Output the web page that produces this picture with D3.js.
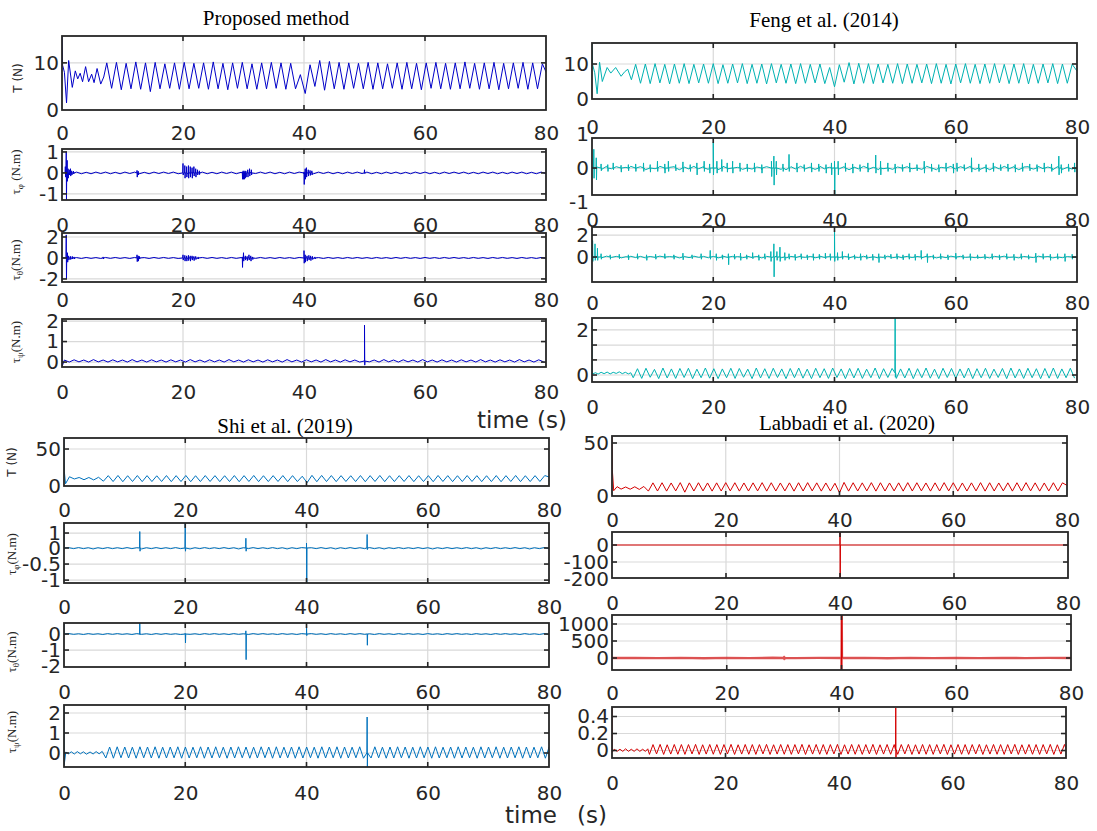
<!DOCTYPE html>
<html><head><meta charset="utf-8">
<script src="https://cdn.jsdelivr.net/npm/d3@7"></script>
<style>body{margin:0;background:#fff}svg{display:block}</style>
</head><body>
<svg id="c" width="1097" height="831"></svg>
<script>
// ---------------- data ----------------
const xTicks = [0, 20, 40, 60, 80];
const titles = ["Proposed method", "Feng et al. (2014)", "Shi et al. (2019)", "Labbadi et al. (2020)"];

// Proposed method : T
const P1_head = [0,16, 0.1,9.5, 0.4,8.0, 0.75,1.5, 1.1,10.5, 1.7,4.8, 2.2,8.3, 2.6,6.6, 3.0,7.8, 3.4,6.0, 3.9,9.2, 4.4,6.0, 4.9,7.6, 5.3,5.8, 5.8,8.8, 6.4,5.5, 6.9,7.0];
const P1_body = [10.0,4.6,10.1,4.3,9.9,4.5,10.2,4.4,10.0,3.9,
10.1,4.5,9.8,4.6,10.0,4.4,10.1,4.5,9.9,4.6,
10.0,4.4,10.2,4.5,9.9,4.3,10.0,4.6,10.1,4.5,
9.8,4.4,10.0,4.5,10.1,4.6,10.0,4.4,9.9,4.5,
7.5,3.5,9.6,5.0,10.5,4.2,10.3,4.5,10.1,4.4,
10.0,4.6,9.9,4.5,10.1,4.4,10.0,4.5,9.8,4.6,
10.0,4.4,10.1,4.5,9.9,4.3,10.0,4.6,10.1,4.5,
9.9,4.4,10.0,4.5,10.2,4.6,9.9,4.4,10.0,4.5,
10.1,4.3,9.9,4.5,10.0,4.6,10.1,4.4,10.0,4.5,9.8,7.5];
// Proposed : tau_phi
const P2_body = [0.04,-0.03,0.04,-0.04,0.03,-0.04,0.04,-0.03,0.04,-0.04,
0.03,-0.04,0.04,-0.03,0.04,-0.04,0.03,-0.04,0.04,-0.03,
0.04,-0.03,0.04,-0.04,0.03,-0.04,0.04,-0.03,0.04,-0.04,
0.03,-0.04,0.04,-0.03,0.04,-0.04,0.03,-0.04,0.04,-0.03,
0.04,-0.03,0.04,-0.04,0.03,-0.04,0.04,-0.03,0.04,-0.04,
0.03,-0.04,0.04,-0.03,0.04,-0.04,0.03,-0.04,0.04,-0.03,
0.04,-0.03,0.04,-0.04,0.03,-0.04,0.04,-0.03,0.04,-0.04,
0.03,-0.04,0.04,-0.03,0.04,-0.04,0.03,-0.04,0.04,-0.03,
0.04,-0.03,0.04,-0.04,0.03,-0.04,0.04,-0.03,0.04,-0.04,
0.03,-0.04,0.04,-0.03,0.04,-0.04,0.03,-0.04,0.04,-0.03];
const P2_spikes = [[0.55,0.3,-0.2],[0.7,1.0,-1.29],[0.85,0.6,-0.4],[1.0,0.2,-0.25],[1.2,0.15,-0.1],[1.4,0.2,-0.15],[1.6,0.1,-0.1],[1.9,0.08,-0.05],
[12.4,0.12,-0.2],[12.6,0.08,-0.1],
[20.0,0.45,-0.1],[20.3,0.35,-0.25],[20.6,0.3,-0.2],[20.9,0.35,-0.25],[21.2,0.3,-0.2],[21.5,0.25,-0.25],[21.8,0.3,-0.15],[22.1,0.2,-0.2],[22.4,0.15,-0.1],[22.7,0.1,-0.08],
[29.8,0.05,-0.3],[29.95,0.1,-0.3],[30.1,0.05,-0.3],[30.25,0.1,-0.25],[30.4,0.08,-0.2],[30.7,0.15,-0.2],[31.0,0.2,-0.15],[31.3,0.15,-0.1],
[40.0,0.05,-0.55],[40.2,0.2,-0.3],[40.4,0.25,-0.2],[40.7,0.15,-0.15],[41.0,0.12,-0.12],[41.3,0.1,-0.1],
[50.0,0.15,-0.03]];
// Proposed : tau_theta
const P3_body = [0.05,-0.04,0.04,-0.05,0.05,-0.04,0.04,-0.05,0.05,-0.04,
0.05,-0.04,0.04,-0.05,0.05,-0.04,0.04,-0.05,0.05,-0.04,
0.05,-0.04,0.04,-0.05,0.05,-0.04,0.04,-0.05,0.05,-0.04,
0.05,-0.04,0.04,-0.05,0.05,-0.04,0.04,-0.05,0.05,-0.04,
0.05,-0.04,0.04,-0.05,0.05,-0.04,0.04,-0.05,0.05,-0.04,
0.05,-0.04,0.04,-0.05,0.05,-0.04,0.04,-0.05,0.05,-0.04,
0.05,-0.04,0.04,-0.05,0.05,-0.04,0.04,-0.05,0.05,-0.04,
0.05,-0.04,0.04,-0.05,0.05,-0.04,0.04,-0.05,0.05,-0.04,
0.05,-0.04,0.04,-0.05,0.05,-0.04,0.04,-0.05,0.05,-0.04,
0.05,-0.04,0.04,-0.05,0.05,-0.04,0.04,-0.05,0.05,-0.04];
const P3_spikes = [[0.7,2.2,-2.0],[0.9,0.5,-0.4],[1.1,0.2,-0.2],[1.4,0.15,-0.15],[1.7,0.15,-0.1],[2.0,0.1,-0.1],[6.8,0.1,-0.1],
[12.4,0.3,-0.35],[12.6,0.2,-0.3],[12.8,0.15,-0.1],
[20.0,0.3,-0.2],[20.3,0.25,-0.3],[20.6,0.2,-0.3],[20.9,0.25,-0.25],[21.2,0.2,-0.3],[21.5,0.2,-0.2],[21.8,0.15,-0.25],[22.1,0.15,-0.15],[22.5,0.1,-0.1],
[29.8,0.1,-0.9],[30.0,0.5,-0.3],[30.3,0.2,-0.2],[30.6,0.15,-0.25],[30.9,0.3,-0.2],[31.2,0.2,-0.3],[31.5,0.1,-0.15],
[40.0,0.7,-0.5],[40.2,0.3,-0.4],[40.5,0.2,-0.3],[40.8,0.25,-0.2],[41.1,0.2,-0.25],[41.4,0.15,-0.15],[41.8,0.1,-0.1]];
// Proposed : tau_psi
const P4_head = [0,2.1, 0.03,-0.2];
const P4_body = [0.10,0.00,0.11,0.01,0.10,0.00,0.12,0.01,0.10,0.00,
0.11,0.01,0.10,0.00,0.12,0.01,0.10,0.00,0.11,0.01,
0.10,0.00,0.11,0.01,0.10,0.00,0.12,0.01,0.10,0.00,
0.11,0.01,0.10,0.00,0.12,0.01,0.10,0.00,0.11,0.01,
0.10,0.00,0.11,0.01,0.10,0.00,0.12,0.01,0.10,0.00,
0.11,0.01,0.10,0.00,0.12,0.01,0.10,0.00,0.11,0.01,
0.10,0.00,0.11,0.01,0.10,0.00,0.12,0.01,0.10,0.00,
0.11,0.01,0.10,0.00,0.12,0.01,0.10,0.00,0.11,0.01,
0.10,0.00,0.11,0.01,0.10,0.00,0.12,0.01,0.10,0.00,
0.11,0.01,0.10,0.00,0.12,0.01,0.10,0.00,0.11,0.01];
const P4_spikes = [[50,1.8,-0.15]];

// Feng et al. (2014)
const F1_head = [0,16, 0.1,9.8, 0.45,7.5, 0.85,1.5, 1.25,10.5, 1.7,5.0, 2.5,9.0, 3.1,7.4, 3.9,9.0, 4.8,6.5, 5.4,7.8, 5.9,8.5, 6.5,5.5];
const F1_body = [9.9,4.5,10.0,4.4,10.1,4.6,9.9,4.3,10.0,4.5,
10.1,4.4,9.9,4.6,10.0,4.5,10.1,4.4,9.8,4.5,
10.0,4.6,10.1,4.4,9.9,4.5,10.0,4.3,10.1,4.6,
9.9,4.5,10.0,4.4,10.1,4.5,9.9,4.6,10.0,4.4,
9.0,3.5,9.8,4.8,10.4,4.3,10.2,4.5,10.1,4.4,
10.0,4.6,9.9,4.5,10.1,4.4,10.0,4.5,9.9,4.6,
10.0,4.4,10.1,4.5,9.9,4.3,10.0,4.6,10.1,4.5,
9.9,4.4,10.0,4.5,10.1,4.6,9.9,4.4,10.0,4.5,
10.1,4.3,9.9,4.5,10.0,4.6,10.1,4.4,10.0,4.5,9.9,8.0];
const F2_body = [0.00,0.03,-0.04,0.05,-0.02,0.04,-0.05,0.02,0.05,-0.03,
0.04,-0.05,0.03,-0.02,0.05,-0.04,0.02,0.04,-0.05,0.03,
-0.03,0.05,-0.02,0.04,-0.04,0.03,-0.05,0.05,-0.02,0.04,
0.02,-0.04,0.05,-0.03,0.03,-0.05,0.04,-0.02,0.05,-0.04,
-0.05,0.04,-0.03,0.05,-0.02,0.03,-0.04,0.05,-0.03,0.02,
0.05,-0.02,0.04,-0.05,0.03,-0.03,0.05,-0.04,0.02,-0.05,
-0.02,0.05,-0.04,0.03,-0.05,0.04,-0.02,0.03,-0.04,0.05,
0.03,-0.05,0.02,-0.04,0.05,-0.03,0.04,-0.02,0.05,-0.04,
-0.04,0.02,-0.05,0.04,-0.03,0.05,-0.02,0.04,-0.05,0.03,
0.04,-0.03,0.05,-0.02,0.03,-0.05,0.04,-0.04,0.02,-0.03,0.00];
const F2_spikes = [[0.3,0.55,-0.3],[0.7,0.3,-0.35],[1.5,0.12,-0.08],[2.6,0.1,-0.1],[3.5,0.15,-0.05],[4.8,0.08,-0.12],[6.0,0.1,-0.08],[7.2,0.12,-0.1],[8.5,0.15,-0.1],[9.6,0.1,-0.12],[10.8,0.2,-0.1],[12.0,0.12,-0.15],[12.6,0.2,-0.1],[13.8,0.1,-0.08],[15.0,0.18,-0.12],[16.2,0.1,-0.1],[17.3,0.15,-0.2],[18.5,0.2,-0.1],[19.4,0.12,-0.15],[20.0,0.75,-0.2],[20.6,0.2,-0.15],[21.4,0.25,-0.1],[22.3,0.15,-0.12],[23.2,0.2,-0.15],[24.4,0.15,-0.1],[25.6,0.12,-0.1],[26.8,0.15,-0.12],[28.0,0.1,-0.15],[29.6,0.2,-0.25],[30.0,0.35,-0.5],[30.4,0.2,-0.2],[31.5,0.12,-0.1],[32.5,0.4,-0.1],[33.8,0.15,-0.12],[35.0,0.1,-0.1],[36.2,0.15,-0.12],[37.4,0.12,-0.1],[38.6,0.1,-0.15],[39.5,0.15,-0.2],[40.0,0.2,-0.8],[40.6,0.2,-0.2],[41.8,0.15,-0.1],[43.0,0.12,-0.15],[44.2,0.1,-0.1],[45.5,0.15,-0.12],[46.8,0.38,-0.15],[47.6,0.2,-0.2],[48.8,0.15,-0.1],[50.0,0.12,-0.15],[51.2,0.1,-0.1],[52.4,0.15,-0.12],[53.6,0.1,-0.08],[54.8,0.2,-0.15],[56.0,0.12,-0.1],[57.2,0.1,-0.12],[58.4,0.15,-0.1],[59.6,0.12,-0.15],[60.2,0.15,-0.1],[61.4,0.1,-0.08],[62.6,0.3,-0.12],[63.8,0.12,-0.1],[65.0,0.1,-0.12],[66.2,0.15,-0.1],[67.4,0.1,-0.08],[68.6,0.12,-0.1],[69.8,0.1,-0.12],[71.0,0.15,-0.1],[72.2,0.12,-0.08],[73.4,0.1,-0.1],[74.6,0.15,-0.12],[75.8,0.12,-0.1],[77.0,0.35,-0.2],[77.4,0.1,-0.15],[78.6,0.12,-0.1],[79.6,0.15,-0.12]];
const F3_body = [0.00,0.05,-0.07,0.08,-0.04,0.06,-0.08,0.03,0.07,-0.05,
0.06,-0.08,0.05,-0.03,0.08,-0.06,0.04,0.07,-0.08,0.05,
-0.05,0.08,-0.03,0.06,-0.07,0.05,-0.08,0.08,-0.04,0.06,
0.04,-0.06,0.08,-0.05,0.05,-0.08,0.06,-0.03,0.07,-0.06,
-0.08,0.06,-0.05,0.08,-0.03,0.05,-0.07,0.08,-0.05,0.04,
0.08,-0.04,0.06,-0.08,0.05,-0.05,0.07,-0.06,0.03,-0.08,
-0.03,0.08,-0.06,0.05,-0.08,0.06,-0.04,0.05,-0.07,0.08,
0.05,-0.08,0.04,-0.06,0.08,-0.05,0.06,-0.03,0.07,-0.06,
-0.06,0.04,-0.08,0.06,-0.05,0.08,-0.03,0.06,-0.08,0.05,
0.06,-0.05,0.08,-0.03,0.05,-0.08,0.06,-0.06,0.04,-0.05,0.00];
const F3_spikes = [[0.1,1.5,-0.4],[0.5,1.2,-0.3],[0.9,0.8,-0.3],[1.5,0.3,-0.2],[3.0,0.2,-0.2],[4.5,0.25,-0.15],[6.0,0.2,-0.25],[7.5,0.3,-0.2],[9.0,0.2,-0.3],[10.5,0.25,-0.2],[12.0,0.3,-0.15],[13.5,0.2,-0.2],[15.0,0.35,-0.25],[16.5,0.2,-0.15],[18.0,0.3,-0.2],[19.5,0.6,-0.2],[20.5,0.3,-0.3],[21.5,0.2,-0.2],[22.5,0.3,-0.7],[23.5,0.25,-0.2],[24.5,0.35,-0.3],[25.5,0.2,-0.2],[26.5,0.4,-0.15],[27.5,0.2,-0.3],[28.5,0.3,-0.2],[29.5,0.5,-0.4],[30.0,1.2,-1.8],[30.5,0.5,-0.3],[31.0,0.9,-0.4],[31.8,0.4,-0.3],[32.5,0.3,-0.2],[33.5,0.25,-0.3],[34.5,0.3,-0.2],[35.5,0.2,-0.25],[36.5,0.3,-0.3],[37.5,0.25,-0.2],[38.5,0.35,-0.15],[39.3,0.3,-0.3],[40.0,2.7,-0.4],[40.5,0.4,-0.3],[41.3,0.5,-0.2],[42.3,0.3,-0.25],[43.3,0.2,-0.2],[44.3,0.3,-0.3],[45.3,0.2,-0.2],[46.3,0.25,-0.3],[47.3,0.3,-0.5],[48.3,0.2,-0.2],[49.3,0.25,-0.15],[50.3,0.3,-0.2],[51.3,0.2,-0.25],[52.3,0.3,-0.2],[53.3,0.25,-0.3],[54.3,0.6,-0.2],[55.3,0.3,-0.5],[56.3,0.2,-0.2],[57.5,0.3,-0.2],[58.7,0.2,-0.25],[60.0,0.35,-0.2],[61.2,0.2,-0.2],[62.4,0.3,-0.3],[63.6,0.2,-0.15],[64.8,0.25,-0.2],[66.0,0.3,-0.2],[67.2,0.2,-0.25],[68.4,0.3,-0.2],[69.6,0.25,-0.3],[70.8,0.3,-0.2],[72.0,0.2,-0.2],[73.2,0.35,-0.5],[74.4,0.3,-0.2],[75.6,0.25,-0.3],[76.8,0.3,-0.2],[78.0,0.3,-0.4],[79.2,0.25,-0.2]];
const F4_head = [0,2.53, 0.03,0.05, 0.6,0.1, 1.0,0.04, 1.5,0.12, 2.0,0.06, 2.5,0.13, 3.0,0.05, 3.5,0.12, 4.0,0.07, 4.5,0.14, 5.0,0.06, 5.5,0.12, 6.0,0.05, 6.4,0.1];
const F4_body = [-0.12,0.28,-0.15,0.30,-0.10,0.25,-0.16,0.31,-0.13,0.27,
-0.15,0.29,-0.11,0.30,-0.16,0.26,-0.12,0.31,-0.14,0.28,
-0.16,0.27,-0.12,0.30,-0.15,0.29,-0.10,0.26,-0.16,0.31,
-0.13,0.28,-0.15,0.30,-0.11,0.27,-0.16,0.29,-0.12,0.31,
-0.14,0.26,-0.16,0.30,-0.12,0.28,-0.15,0.31,-0.11,0.27,
-0.16,0.29,-0.13,0.30,-0.15,0.26,-0.12,0.31,-0.16,0.28,
-0.11,0.29,-0.15,0.27,-0.13,0.30,-0.16,0.28,-0.12,0.31,
-0.14,0.26,-0.16,0.30,-0.11,0.29,-0.15,0.27,-0.13,0.31,
-0.16,0.28,-0.12,0.30,-0.15,0.26,-0.11,0.29,-0.16,0.31,
-0.13,0.27,-0.15,0.30,-0.12,0.28,-0.16,0.29,-0.14,0.31,
-0.15,0.27,-0.12,0.30,-0.14];
const F4_spikes = [[50,2.53,-0.1]];

// Shi et al. (2019)
const S1_head = [0,65, 0.05,20, 0.25,3, 0.9,12.5, 1.7,9.5, 2.5,11.5, 3.3,8.5, 4.1,11.5, 4.9,8.2, 5.7,11.8, 6.5,6.5];
const S1_body = [14.0,6.0,14.2,5.8,13.9,6.1,14.1,5.9,14.0,6.0,
13.8,6.1,14.1,5.9,14.0,6.0,14.2,5.8,13.9,6.0,
14.1,6.1,14.0,5.9,13.9,6.0,14.1,5.8,14.0,6.1,
14.2,5.9,13.9,6.0,14.0,6.1,14.1,5.9,14.0,6.0,
13.2,4.5,14.4,5.8,14.3,6.0,14.1,5.9,14.0,6.1,
13.9,6.0,14.1,5.8,14.0,6.1,14.2,5.9,13.9,6.0,
14.0,6.1,14.1,5.9,13.9,6.0,14.0,5.8,14.2,6.1,
14.0,5.9,13.9,6.0,14.1,6.1,14.0,5.9,13.9,6.0,
14.1,5.8,14.0,6.1,14.2,5.9,13.9,6.0,14.0,6.1,14.1,12.0];
const S2_head = [0,1.67, 0.03,0];
const S2_body = [0.02,-0.02,0.03,-0.02,0.02,-0.03,0.02,-0.02,0.03,-0.02,
0.02,-0.02,0.03,-0.02,0.02,-0.03,0.02,-0.02,0.03,-0.02,
0.02,-0.02,0.03,-0.02,0.02,-0.03,0.02,-0.02,0.03,-0.02,
0.02,-0.02,0.03,-0.02,0.02,-0.03,0.02,-0.02,0.03,-0.02,
0.02,-0.02,0.03,-0.02,0.02,-0.03,0.02,-0.02,0.03,-0.02,
0.02,-0.02,0.03,-0.02,0.02,-0.03,0.02,-0.02,0.03,-0.02,
0.02,-0.02,0.03,-0.02,0.02,-0.03,0.02,-0.02,0.03,-0.02,
0.02,-0.02,0.03,-0.02,0.02,-0.03,0.02,-0.02,0.03,-0.02,
0.02,-0.02,0.03,-0.02,0.02,-0.03,0.02,-0.02,0.03,-0.02,
0.02,-0.02,0.03,-0.02,0.02,-0.03,0.02,-0.02,0.03,-0.02];
const S2_spikes = [[12.5,1.1,-0.1],[20,1.67,-0.1],[30,0.65,-0.1],[40,0.33,-1.09],[50,0.9,-0.05]];
const S3_head = [0,0.69, 0.03,0];
const S3_body = [0.03,-0.02,0.02,-0.03,0.03,-0.02,0.02,-0.03,0.03,-0.02,
0.03,-0.02,0.02,-0.03,0.03,-0.02,0.02,-0.03,0.03,-0.02,
0.03,-0.02,0.02,-0.03,0.03,-0.02,0.02,-0.03,0.03,-0.02,
0.03,-0.02,0.02,-0.03,0.03,-0.02,0.02,-0.03,0.03,-0.02,
0.03,-0.02,0.02,-0.03,0.03,-0.02,0.02,-0.03,0.03,-0.02,
0.03,-0.02,0.02,-0.03,0.03,-0.02,0.02,-0.03,0.03,-0.02,
0.03,-0.02,0.02,-0.03,0.03,-0.02,0.02,-0.03,0.03,-0.02,
0.03,-0.02,0.02,-0.03,0.03,-0.02,0.02,-0.03,0.03,-0.02,
0.03,-0.02,0.02,-0.03,0.03,-0.02,0.02,-0.03,0.03,-0.02,
0.03,-0.02,0.02,-0.03,0.03,-0.02,0.02,-0.03,0.03,-0.02];
const S3_spikes = [[12.5,0.69,-0.05],[20,0.05,-0.56],[30,0.2,-1.6],[40,0.69,-0.1],[50,0.02,-0.7]];
const S4_head = [0,2.4, 0.03,-0.6, 0.3,0.05, 0.75,-0.04, 1.2,0.06, 1.7,-0.05, 2.2,0.07, 2.7,-0.04, 3.2,0.06, 3.7,-0.06, 4.3,0.05, 4.8,-0.05, 5.3,0.07, 5.8,-0.04, 6.3,0.08];
const S4_body = [-0.25,0.30,-0.26,0.31,-0.24,0.30,-0.25,0.29,-0.26,0.31,
-0.24,0.30,-0.25,0.31,-0.26,0.29,-0.25,0.30,-0.24,0.31,
-0.26,0.30,-0.25,0.29,-0.24,0.31,-0.26,0.30,-0.25,0.31,
-0.24,0.29,-0.26,0.30,-0.25,0.31,-0.24,0.30,-0.26,0.29,
-0.25,0.31,-0.24,0.30,-0.26,0.31,-0.25,0.29,-0.24,0.30,
-0.26,0.31,-0.25,0.30,-0.24,0.29,-0.26,0.31,-0.25,0.30,
-0.24,0.31,-0.26,0.30,-0.25,0.29,-0.24,0.31,-0.26,0.30,
-0.25,0.31,-0.24,0.29,-0.26,0.30,-0.25,0.31,-0.24,0.30,
-0.26,0.29,-0.25,0.31,-0.24,0.30,-0.26,0.31,-0.25,0.29,
-0.24,0.30,-0.26,0.31,-0.25,0.30,-0.24,0.29,-0.26,0.31,
-0.25,0.30,-0.24,0.31,-0.26,0.29,-0.25,0.30,-0.24,0.31,
-0.26,0.30,-0.25,0.29,-0.24,0.31,-0.26,0.30,-0.25,0.31];
const S4_spikes = [[50,1.8,-0.7]];

// Labbadi et al. (2020)
const L1_head = [0,56.6, 0.05,25, 0.3,5.0, 0.9,8.8, 1.6,6.5, 2.4,8.5, 3.2,6.4, 4.0,8.7, 4.8,6.2, 5.6,9.0, 6.4,4.6];
const L1_body = [12.4,4.7,12.5,4.6,12.3,4.8,12.6,3.6,12.4,4.7,
12.5,4.8,12.3,4.6,12.4,4.7,12.6,4.8,12.5,4.6,
12.3,4.7,12.4,4.8,12.6,4.6,12.5,4.7,12.3,4.8,
12.4,4.6,12.5,4.7,12.6,4.8,12.4,4.6,12.3,4.7,
12.0,3.0,12.8,4.6,12.5,4.7,12.4,4.8,12.6,4.6,
12.5,4.7,12.3,4.8,12.4,4.6,12.6,4.7,12.5,4.8,
12.3,4.6,12.4,4.7,12.6,4.8,12.5,4.6,12.3,4.7,
12.4,4.8,12.6,4.6,12.5,4.7,12.3,4.8,12.4,4.6,
12.5,4.7,12.6,4.8,12.4,4.6,12.3,4.7,12.5,4.8,12.4,10.0];
const L2_body = [0,0,0,0,0,0,0,0,0];
const L2_spikes = [[40,76,-194]];
const L3_body = [0,5,-5,4,-6,3,-4,6,-5,4,-3,5,-6,4,-5,3,-4,5,-5,4,0];
const L3_spikes = [[30,30,-30],[40,-360,1270]];
const L4_head = [0,0.5, 0.03,-0.02, 0.4,0.015, 0.9,-0.01, 1.4,0.015, 1.9,-0.01, 2.4,0.02, 2.9,-0.01, 3.4,0.015, 3.9,-0.01, 4.4,0.02, 4.9,-0.01, 5.4,0.015, 5.9,-0.01, 6.3,0.02];
const L4_body = [-0.045,0.070,-0.040,0.072,-0.046,0.068,-0.042,0.071,-0.044,0.070,
-0.045,0.070,-0.040,0.072,-0.046,0.068,-0.042,0.071,-0.044,0.070,
-0.045,0.070,-0.040,0.072,-0.046,0.068,-0.042,0.071,-0.044,0.070,
-0.045,0.070,-0.040,0.072,-0.046,0.068,-0.042,0.071,-0.044,0.070,
-0.045,0.070,-0.040,0.072,-0.046,0.068,-0.042,0.071,-0.044,0.070,
-0.045,0.070,-0.040,0.072,-0.046,0.068,-0.042,0.071,-0.044,0.070,
-0.045,0.070,-0.040,0.072,-0.046,0.068,-0.042,0.071,-0.044,0.070,
-0.045,0.070,-0.040,0.072,-0.046,0.068,-0.042,0.071,-0.044,0.070,
-0.045,0.070,-0.040,0.072,-0.046,0.068,-0.042,0.071,-0.044,0.070,
-0.045,0.070,-0.040,0.072,-0.046,0.068,-0.042,0.071,-0.044,0.070,
-0.045,0.070,-0.040,0.072,-0.046,0.068,-0.042,0.071,-0.044,0.070,
-0.045,0.070,-0.040,0.072,-0.046,0.068,-0.042,0.071,-0.044,0.070];
const L4_spikes = [[50,0.5,-0.08]];

// ---------------- helpers ----------------
function build(head, t0, dt, body, spikes, base) {
  const pts = [];
  for (let i = 0; i < head.length; i += 2) pts.push([head[i], head[i + 1]]);
  body.forEach((v, i) => pts.push([t0 + i * dt, v]));
  (spikes || []).forEach(s => {
    const t = s[0], vs = s.slice(1);
    pts.push([t - 0.04, base]);
    vs.forEach((v, k) => pts.push([t + k * 0.04, v]));
    pts.push([t + vs.length * 0.04, base]);
  });
  pts.sort((a, b) => a[0] - b[0]);
  return pts;
}

const cP = "#0000c8", cF = "#00b2b2", cS = "#0072bd", cL = "#d40000";
const ink = "#262626";

const panels = [
  {x0:62,x1:546,y0:36,y1:110,yd:[0,15.7],yt:[0,10],ly:133,c:cP,d:build(P1_head,7.4,0.8,P1_body,[],0),yl:"T",ylx:22,yly:78},
  {x0:62,x1:546,y0:149,y1:200,yd:[-1.29,1.14],yt:[-1,0,1],ly:225,c:cP,d:build([],0.8,0.8,P2_body,P2_spikes,0),yl:"φ",ylx:20,yly:172,sp:true},
  {x0:62,x1:546,y0:233,y1:282,yd:[-2.29,2.38],yt:[-2,0,2],ly:300,c:cP,d:build([0,0],0.8,0.8,P3_body,P3_spikes,0),yl:"θ",ylx:20,yly:260},
  {x0:62,x1:546,y0:319,y1:367,yd:[-0.24,2.1],yt:[0,1,2],ly:392,c:cP,d:build(P4_head,0.4,0.8,P4_body,P4_spikes,0.05),yl:"ψ",ylx:20,yly:342},
  {x0:592,x1:1077,y0:43,y1:99,yd:[0,16],yt:[0,10],ly:127,c:cF,d:build(F1_head,7.2,0.8,F1_body,[],0)},
  {x0:592,x1:1077,y0:138,y1:195,yd:[-0.79,0.88],yt:[-1,0,1],ly:220,c:cF,d:build([],0,0.8,F2_body,F2_spikes,0)},
  {x0:592,x1:1077,y0:227,y1:282,yd:[-2.27,2.73],yt:[0,2],ly:303,c:cF,d:build([],0,0.8,F3_body,F3_spikes,0)},
  {x0:592,x1:1077,y0:318,y1:382,yd:[-0.31,2.53],yt:[0,0.67,1.33,2],yf:["0","","","2"],ly:407,c:cF,d:build(F4_head,6.8,0.7,F4_body,F4_spikes,0.1)},
  {x0:64,x1:549,y0:438,y1:486,yd:[0,64.9],yt:[0,50],ly:510,c:cS,d:build(S1_head,7.3,0.8,S1_body,[],0),yl:"T",ylx:16,yly:462},
  {x0:64,x1:549,y0:523,y1:583,yd:[-1.09,0,1.67],yr:[583,548,523],yt:[-1,-0.5,0,1],ly:607,c:cS,d:build(S2_head,0.8,0.8,S2_body,S2_spikes,0),yl:"φ",ylx:16,yly:554},
  {x0:64,x1:549,y0:623,y1:667,yd:[-2.06,0.69],yt:[-2,-1,0],ly:692,c:cS,d:build(S3_head,0.8,0.8,S3_body,S3_spikes,0),yl:"θ",ylx:16,yly:652},
  {x0:64,x1:549,y0:705,y1:767,yd:[-0.7,2.4],yt:[0,1,2],ly:793,c:cS,d:build(S4_head,6.9,0.625,S4_body,S4_spikes,0),yl:"ψ",ylx:16,yly:732},
  {x0:612,x1:1067,y0:436,y1:496,yd:[0,56.6],yt:[0,50],ly:520,c:cL,d:build(L1_head,7.2,0.8,L1_body,[],0)},
  {x0:612,x1:1068,y0:532,y1:578,yd:[-194,76.5],yt:[-200,-100,0],ly:603,c:cL,d:build([],0,10,L2_body,L2_spikes,0)},
  {x0:612,x1:1071,y0:615,y1:670,yd:[-353,1265],yt:[0,500,1000],ly:693,c:cL,d:build([],0,4,L3_body,L3_spikes,0),thick:true},
  {x0:612,x1:1066,y0:707,y1:758,yd:[-0.088,0.512],yt:[0,0.2,0.4],ly:783,c:cL,d:build(L4_head,6.6,0.625,L4_body,L4_spikes,0.01)}
];

const svg = d3.select("#c");
panels.forEach((p, i) => {
  const g = svg.append("g");
  const x = d3.scaleLinear().domain([0, 80]).range([p.x0, p.x1]);
  const y = d3.scaleLinear().domain(p.yd).range(p.yr || [p.y1, p.y0]);
  const cid = "clip" + i;
  g.append("clipPath").attr("id", cid).append("rect")
    .attr("x", p.x0).attr("y", p.y0).attr("width", p.x1 - p.x0).attr("height", p.y1 - p.y0);
  // grid
  g.selectAll(".vg").data(xTicks.slice(1, -1)).join("line")
    .attr("x1", d => x(d)).attr("x2", d => x(d)).attr("y1", p.y0).attr("y2", p.y1)
    .attr("stroke", "#d9d9d9").attr("stroke-width", 1.2);
  g.selectAll(".hg").data(p.yt.filter(v => y(v) > p.y0 + 1 && y(v) < p.y1 - 1)).join("line")
    .attr("x1", p.x0).attr("x2", p.x1).attr("y1", d => y(d)).attr("y2", d => y(d))
    .attr("stroke", "#d9d9d9").attr("stroke-width", 1.2);
  // data
  g.append("path").datum(p.d).attr("clip-path", `url(#${cid})`)
    .attr("fill", "none").attr("stroke", p.c)
    .attr("stroke-width", p.thick ? 2.4 : 1).attr("stroke-opacity", p.thick ? 0.65 : 1)
    .attr("stroke-linejoin", "round")
    .attr("d", d3.line().x(d => x(d[0])).y(d => y(d[1])));
  if (p.thick) {
    g.append("path").datum(p.d.filter(d => d[0] > 39.9 && d[0] < 40.2)).attr("clip-path", `url(#${cid})`)
      .attr("fill", "none").attr("stroke", p.c).attr("stroke-width", 1.2)
      .attr("d", d3.line().x(d => x(d[0])).y(d => y(d[1])));
  }
  // inner ticks
  const tl = 5;
  xTicks.slice(1, -1).forEach(t => {
    g.append("line").attr("x1", x(t)).attr("x2", x(t)).attr("y1", p.y0).attr("y2", p.y0 + tl).attr("stroke", ink).attr("stroke-width", 1.6);
    g.append("line").attr("x1", x(t)).attr("x2", x(t)).attr("y1", p.y1).attr("y2", p.y1 - tl).attr("stroke", ink).attr("stroke-width", 1.6);
  });
  p.yt.filter(v => y(v) > p.y0 + 1 && y(v) < p.y1 - 1).forEach(v => {
    g.append("line").attr("x1", p.x0).attr("x2", p.x0 + tl).attr("y1", y(v)).attr("y2", y(v)).attr("stroke", ink).attr("stroke-width", 1.6);
    g.append("line").attr("x1", p.x1).attr("x2", p.x1 - tl).attr("y1", y(v)).attr("y2", y(v)).attr("stroke", ink).attr("stroke-width", 1.6);
  });
  // box
  g.append("rect").attr("x", p.x0).attr("y", p.y0).attr("width", p.x1 - p.x0).attr("height", p.y1 - p.y0)
    .attr("fill", "none").attr("stroke", ink).attr("stroke-width", 1.8);
  // x tick labels
  const gx = g.append("g").attr("transform", `translate(0,${p.ly})`)
    .call(d3.axisBottom(x).tickValues(xTicks).tickSize(0).tickPadding(0));
  gx.select(".domain").remove();
  gx.attr("font-size", 20).attr("font-family", "DejaVu Sans");
  gx.selectAll("text").attr("y", 0).attr("dy", "0.36em").attr("fill", ink);
  // y tick labels (hyphen-minus like the original)
  const ya = d3.axisLeft(y).tickValues(p.yt).tickSize(0).tickPadding(3);
  if (p.yf) ya.tickFormat((d, k) => p.yf[k]); else ya.tickFormat(d => String(d));
  const gy = g.append("g").attr("transform", `translate(${p.x0},0)`).call(ya);
  gy.select(".domain").remove();
  gy.attr("font-size", 20).attr("font-family", "DejaVu Sans");
  gy.selectAll("text").attr("fill", ink);
  // y titles
  if (p.yl) {
    const t = g.append("text").attr("transform", `translate(${p.ylx},${p.yly}) rotate(-90)`)
      .attr("text-anchor", "middle").attr("fill", ink);
    if (p.yl === "T") {
      t.attr("font-family", "DejaVu Sans").attr("font-size", 12).text("T (N)");
    } else {
      t.attr("font-family", "Liberation Serif").attr("font-size", 13);
      t.append("tspan").text("τ");
      t.append("tspan").attr("font-size", 9).attr("dy", 3).text(p.yl);
      t.append("tspan").attr("dy", -3).text(p.sp ? " (N.m)" : "(N.m)");
    }
  }
});

// titles
const tpos = [[276, 25], [824, 27], [285, 433], [847, 430]];
titles.forEach((s, k) => {
  svg.append("text").attr("x", tpos[k][0]).attr("y", tpos[k][1]).attr("text-anchor", "middle")
    .attr("font-family", "Liberation Serif").attr("font-size", 21).attr("fill", "#000").text(s);
});
// time (s)
[[477, 537, 428], [505, 577, 823]].forEach(a => {
  svg.append("text").attr("x", a[0]).attr("y", a[2]).attr("font-family", "DejaVu Sans").attr("font-size", 23).attr("fill", ink).text("time");
  svg.append("text").attr("x", a[1]).attr("y", a[2]).attr("font-family", "DejaVu Sans").attr("font-size", 23).attr("fill", ink).text("(s)");
});
</script>
</body></html>
